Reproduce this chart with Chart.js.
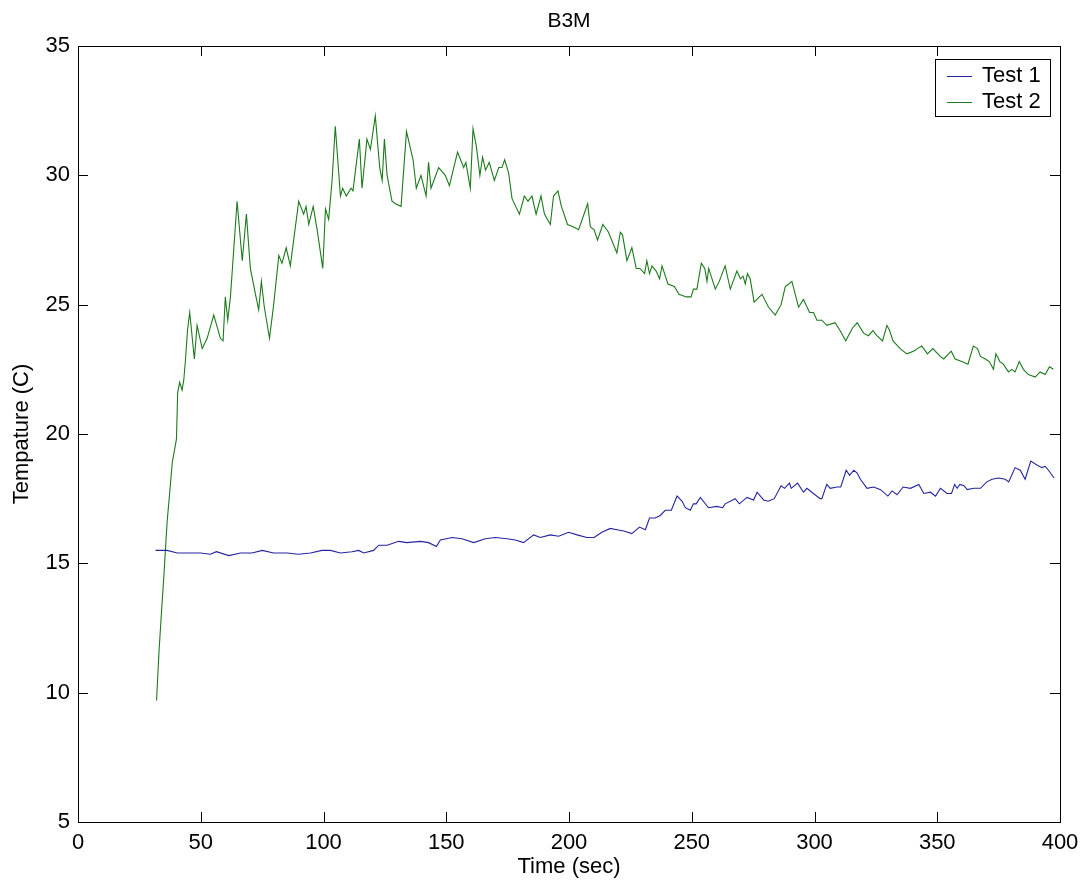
<!DOCTYPE html>
<html>
<head>
<meta charset="utf-8">
<title>B3M</title>
<script src="https://cdn.jsdelivr.net/npm/chart.js@4"></script>
<style>
  html, body { margin: 0; padding: 0; background: #fff; }
  #wrap { width: 1087px; height: 888px; }
</style>
</head>
<body>
<div id="wrap"><canvas id="chart" width="1087" height="888"></canvas></div>
<script>
// B3M - temperature vs time, two tests
const test1Time = [31.6, 36.3, 40.4, 45.8, 49.9, 53.9, 56.4, 61.4, 66.2, 70.9, 75, 79.7, 85.2, 89.9, 94.7, 99.4, 102.8, 106.9, 111.6, 114.3, 116.4, 120.4, 122.5, 125.9, 130.6, 134, 139.5, 142.8, 146, 147.6, 152.4, 156.4, 161.2, 165.9, 170, 174.8, 178.1, 181.5, 185.6, 188.3, 192.4, 195.8, 199.8, 203.3, 207.3, 210.2, 213.4, 216.8, 219.5, 222.3, 225.6, 228.7, 231.1, 232.8, 235.1, 237.2, 239.2, 241.7, 244, 246.1, 247.4, 249.4, 250.7, 251.8, 253.5, 256.8, 260.2, 262.6, 263.6, 267.7, 269.4, 272.5, 275.2, 276.6, 279.3, 281.1, 283.6, 286.4, 287.8, 289.8, 290.5, 293.1, 295.5, 296.9, 298.9, 302.3, 303, 305, 306.4, 309.1, 310.7, 312.9, 314.3, 316, 317.3, 318.7, 321.4, 324.1, 326.9, 329.9, 331.6, 333.6, 336.1, 339.1, 342.5, 344.5, 347.2, 349.3, 351.3, 354, 355.8, 357.1, 358.1, 359.2, 360.9, 362.2, 364.9, 367.6, 370.2, 372.3, 375, 377.7, 379.1, 381.7, 383.8, 385.8, 388.1, 390.6, 392.6, 394, 395.3, 397.6];
const test1Temp = [15.5, 15.5, 15.4, 15.4, 15.4, 15.35, 15.45, 15.3, 15.4, 15.4, 15.5, 15.4, 15.4, 15.35, 15.4, 15.5, 15.5, 15.4, 15.45, 15.5, 15.4, 15.5, 15.7, 15.7, 15.85, 15.8, 15.85, 15.8, 15.65, 15.9, 16.0, 15.95, 15.8, 15.95, 16.0, 15.95, 15.9, 15.8, 16.1, 16.0, 16.1, 16.05, 16.2, 16.1, 16.0, 16.0, 16.2, 16.35, 16.3, 16.25, 16.15, 16.4, 16.3, 16.75, 16.75, 16.85, 17.05, 17.05, 17.6, 17.4, 17.15, 17.05, 17.3, 17.3, 17.55, 17.15, 17.2, 17.15, 17.3, 17.5, 17.3, 17.55, 17.45, 17.75, 17.45, 17.4, 17.5, 18.0, 17.9, 18.1, 17.9, 18.1, 17.75, 17.9, 17.75, 17.5, 17.5, 18.05, 17.9, 17.95, 17.95, 18.6, 18.4, 18.6, 18.5, 18.25, 17.9, 17.95, 17.85, 17.6, 17.8, 17.65, 17.95, 17.9, 18.05, 17.7, 17.75, 17.6, 17.9, 17.7, 17.7, 18.05, 17.9, 18.05, 18.0, 17.85, 17.9, 17.9, 18.15, 18.25, 18.3, 18.25, 18.15, 18.7, 18.6, 18.25, 18.95, 18.8, 18.7, 18.75, 18.6, 18.3];

const test2Time = [32, 33, 34, 34.9, 36.3, 37.5, 38.4, 40.1, 40.6, 41.4, 42.4, 43.1, 43.8, 44.6, 45.5, 47.4, 48.5, 50.6, 52.6, 55.3, 58, 59.1, 60, 61, 62.1, 64.8, 66.9, 68.6, 70.2, 72.3, 73.6, 74.7, 75.9, 78, 79.7, 81.8, 83.1, 84.8, 86.5, 89.9, 91.9, 92.9, 94, 95.8, 97.4, 99.7, 100.8, 102.1, 103.5, 104.8, 106.9, 107.8, 109.3, 111.2, 112, 114.6, 115.7, 117.7, 119.1, 121.1, 122.9, 123.9, 124.8, 125.9, 127.9, 129.3, 131.6, 133.8, 136.5, 137.8, 139.7, 141.8, 142.8, 143.8, 146.9, 149.6, 151.3, 154.6, 157.1, 158, 159.8, 160.9, 162.3, 163.7, 164.8, 166, 167.5, 169.6, 171.4, 172.7, 173.8, 175.4, 176.8, 179.8, 181.8, 183.3, 184.9, 186.6, 188.6, 190, 192.4, 193.7, 195.5, 196.9, 199.4, 201.9, 203.9, 207.6, 208.7, 210.2, 211.6, 213.8, 216.1, 219.5, 220.9, 221.8, 223.6, 225.6, 227.4, 228.9, 230.8, 231.7, 232.8, 233.8, 235.5, 236.9, 237.9, 240.3, 242.9, 244.8, 247.8, 249.7, 250.7, 252.1, 253.9, 255.3, 256.2, 256.9, 259.6, 261.2, 263.6, 265.7, 268.4, 269.8, 270.9, 271.8, 272.7, 273.8, 275.4, 278.6, 281.3, 284, 286.4, 288.1, 289.5, 290.8, 293.5, 295.5, 298, 299.6, 301, 303, 305, 308.4, 310.4, 312.7, 315.5, 317.4, 320, 322, 323.8, 325.4, 327.7, 329.5, 330.6, 332, 334.9, 337.6, 340.3, 341.9, 343.7, 346, 348.2, 351.2, 352.6, 355.7, 357.3, 360, 362.5, 364.7, 366.4, 367.6, 369.6, 371.2, 372.9, 373.9, 375.5, 376.9, 379, 380.4, 381.7, 383.4, 385.1, 387.1, 389.9, 391.9, 394, 395.7, 397.3];
const test2Temp = [9.7, 11.6, 13.1, 14.4, 16.6, 17.9, 18.9, 19.8, 21.6, 22.0, 21.7, 22.1, 22.9, 24.0, 24.7, 22.9, 24.2, 23.3, 23.7, 24.6, 23.7, 23.6, 25.3, 24.4, 25.3, 29.0, 26.7, 28.5, 26.4, 25.4, 24.8, 25.9, 24.9, 23.7, 25.0, 26.9, 26.6, 27.2, 26.5, 29.0, 28.5, 28.8, 28.1, 28.8, 27.9, 26.4, 28.7, 28.3, 29.8, 31.9, 29.2, 29.5, 29.2, 29.5, 29.4, 31.4, 29.5, 31.4, 31.0, 32.3, 30.3, 29.8, 31.4, 30.0, 29.0, 28.9, 28.8, 31.7, 30.6, 29.5, 30.0, 29.2, 30.5, 29.5, 30.3, 30.0, 29.6, 30.9, 30.3, 30.5, 29.5, 31.8, 31.1, 30.0, 30.7, 30.2, 30.5, 29.8, 30.3, 30.3, 30.6, 30.1, 29.1, 28.5, 29.2, 29.0, 29.2, 28.5, 29.2, 28.5, 28.1, 29.2, 29.4, 28.8, 28.1, 28.0, 27.9, 28.9, 28.0, 27.9, 27.5, 28.1, 27.8, 27.0, 27.8, 27.7, 26.7, 27.2, 26.4, 26.4, 26.2, 26.7, 26.2, 26.5, 26.3, 26.0, 26.5, 25.8, 25.7, 25.4, 25.3, 25.3, 25.6, 25.6, 26.6, 26.4, 25.9, 26.4, 25.6, 25.9, 26.5, 25.6, 26.3, 26.0, 26.1, 25.8, 26.2, 26.0, 25.1, 25.4, 24.9, 24.6, 25.0, 25.7, 25.8, 25.9, 24.9, 25.2, 24.7, 24.7, 24.4, 24.4, 24.2, 24.3, 24.0, 23.6, 24.1, 24.3, 23.9, 23.8, 24.0, 23.8, 23.6, 24.2, 24.0, 23.6, 23.3, 23.1, 23.2, 23.3, 23.4, 23.1, 23.3, 23.0, 22.9, 23.2, 22.9, 22.8, 22.7, 23.4, 23.3, 23.0, 22.9, 22.8, 22.5, 23.1, 22.8, 22.7, 22.4, 22.5, 22.4, 22.8, 22.5, 22.3, 22.2, 22.4, 22.3, 22.6, 22.5];

const chartTitle = 'B3M';
const seriesLabels = ['Test 1', 'Test 2'];
const seriesColors = ['#24249e', '#1c7a1c'];
const xTicks = [0, 50, 100, 150, 200, 250, 300, 350, 400];
const yTicks = [5, 10, 15, 20, 25, 30, 35];

(function () {
  const FONT = "'Liberation Sans', Arial, sans-serif";

  function toPoints(xs, ys) {
    return xs.map((x, i) => ({ x: x, y: ys[i] }));
  }

  // box + inward tick marks on all four sides, MATLAB style
  const frame = {
    id: 'frame',
    afterDraw(chart) {
      const { ctx, chartArea: a, scales } = chart;
      const len = 10;
      ctx.save();
      ctx.strokeStyle = '#000';
      ctx.lineWidth = 1;
      ctx.beginPath();
      xTicks.forEach(v => {
        const px = Math.round(scales.x.getPixelForValue(v)) + 0.5;
        ctx.moveTo(px, a.bottom); ctx.lineTo(px, a.bottom - len);
        ctx.moveTo(px, a.top); ctx.lineTo(px, a.top + len);
      });
      yTicks.forEach(v => {
        const py = Math.round(scales.y.getPixelForValue(v)) + 0.5;
        ctx.moveTo(a.left, py); ctx.lineTo(a.left + len, py);
        ctx.moveTo(a.right, py); ctx.lineTo(a.right - len, py);
      });
      ctx.stroke();
      ctx.strokeRect(Math.round(a.left) + 0.5, Math.round(a.top) + 0.5,
        Math.round(a.right - a.left), Math.round(a.bottom - a.top));
      ctx.restore();
    }
  };

  // title centred over the plot area (not over the whole canvas)
  const axesTitle = {
    id: 'axesTitle',
    afterDraw(chart) {
      const { ctx, chartArea: a } = chart;
      ctx.save();
      ctx.font = '21px ' + FONT;
      ctx.fillStyle = '#000';
      ctx.textAlign = 'center';
      ctx.textBaseline = 'middle';
      ctx.fillText(chartTitle, (a.left + a.right) / 2, 21);
      ctx.restore();
    }
  };

  // boxed legend in the upper right corner
  const boxLegend = {
    id: 'boxLegend',
    afterDraw(chart) {
      const { ctx, chartArea: a } = chart;
      const w = 115, h = 57;
      const x0 = a.right - 10 - w, y0 = a.top + 13;
      ctx.save();
      ctx.fillStyle = '#fff';
      ctx.fillRect(x0, y0, w, h);
      ctx.strokeStyle = '#000';
      ctx.lineWidth = 1;
      ctx.strokeRect(Math.round(x0) + 0.5, Math.round(y0) + 0.5, w, h);
      ctx.font = '22px ' + FONT;
      ctx.textBaseline = 'middle';
      chart.data.datasets.forEach((ds, i) => {
        const cy = y0 + 17 + i * 26;
        ctx.strokeStyle = ds.borderColor;
        ctx.beginPath();
        ctx.moveTo(x0 + 12, Math.round(cy) + 0.5);
        ctx.lineTo(x0 + 37, Math.round(cy) + 0.5);
        ctx.stroke();
        ctx.fillStyle = '#000';
        ctx.fillText(ds.label, x0 + 47, cy);
      });
      ctx.restore();
    }
  };

  function init() {
    const canvas = document.getElementById('chart');
    new Chart(canvas.getContext('2d'), {
      type: 'line',
      data: {
        datasets: [
          { label: seriesLabels[0], data: toPoints(test1Time, test1Temp), borderColor: seriesColors[0] },
          { label: seriesLabels[1], data: toPoints(test2Time, test2Temp), borderColor: seriesColors[1] }
        ]
      },
      options: {
        responsive: false,
        animation: false,
        layout: { padding: { top: 46, right: 27, bottom: 0, left: 0 } },
        elements: {
          line: { borderWidth: 1.1, tension: 0 },
          point: { radius: 0 }
        },
        plugins: {
          legend: { display: false },
          tooltip: { enabled: false },
          title: { display: false }
        },
        scales: {
          x: {
            type: 'linear',
            min: 0, max: 400,
            afterFit(s) { s.height = 66; },
            afterBuildTicks(s) { s.ticks = xTicks.map(v => ({ value: v })); },
            grid: { display: false, drawTicks: false },
            border: { display: false },
            ticks: { color: '#000', padding: 8, maxRotation: 0, font: { family: FONT, size: 22 } },
            title: {
              display: true, text: 'Time (sec)', color: '#000',
              font: { family: FONT, size: 22 }, padding: { top: 0, bottom: 8 }
            }
          },
          y: {
            min: 5, max: 35,
            afterFit(s) { s.width = 78; },
            afterBuildTicks(s) { s.ticks = yTicks.map(v => ({ value: v })); },
            grid: { display: false, drawTicks: false },
            border: { display: false },
            ticks: { color: '#000', padding: 8, font: { family: FONT, size: 22 } },
            title: {
              display: true, text: 'Tempature (C)', color: '#000',
              font: { family: FONT, size: 22 }, padding: { top: 9, bottom: 0 }
            }
          }
        }
      },
      plugins: [frame, axesTitle, boxLegend]
    });
  }

  if (document.readyState === 'loading') {
    document.addEventListener('DOMContentLoaded', init);
  } else {
    init();
  }
})();
</script>
</body>
</html>
